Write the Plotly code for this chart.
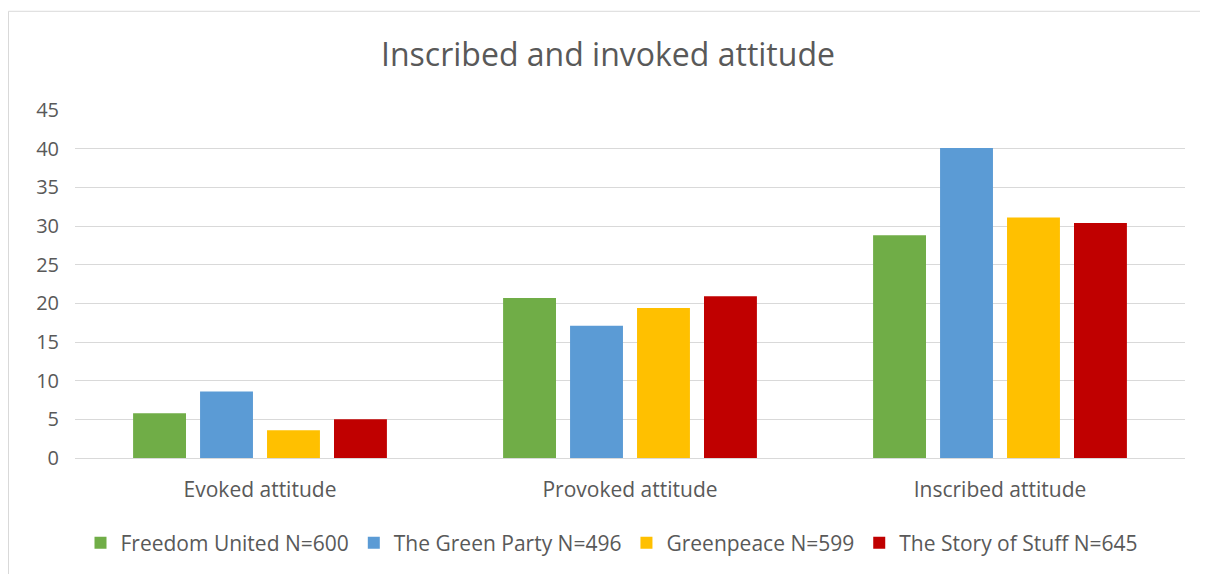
import plotly.graph_objects as go

categories = ["Evoked attitude", "Provoked attitude", "Inscribed attitude"]
series_names = ["Freedom United N=600", "The Green Party N=496", "Greenpeace N=599", "The Story of Stuff N=645"]
freedom_united = [5.8, 20.7, 28.8]
green_party = [8.6, 17.1, 40.1]
greenpeace = [3.6, 19.4, 31.1]
story_of_stuff = [5.0, 20.9, 30.4]
colors = ["#70AD47", "#5B9BD5", "#FFC000", "#C00000"]
y_ticks = [0, 5, 10, 15, 20, 25, 30, 35, 40, 45]

FONT = "'Open Sans', sans-serif"

fig = go.Figure()
for name, vals, c in zip(series_names, [freedom_united, green_party, greenpeace, story_of_stuff], colors):
    fig.add_trace(go.Bar(x=categories, y=vals, name=name, marker=dict(color=c, line=dict(width=0))))

OFF = 8  # page offset
W, H = 1208 - OFF, 574 - OFF
L, R, T, B = 75 - OFF, 1208 - 1185, 110 - OFF, 574 - 459
pw, ph = W - L - R, H - T - B

def px(x):
    return (x - OFF - L) / pw

def py(y):
    return 1 - (y - OFF - T) / ph

fig.update_layout(
    width=W, height=H,
    margin=dict(l=L, r=R, t=T, b=B),
    paper_bgcolor="white", plot_bgcolor="white",
    barmode="group", bargap=0.276, bargroupgap=0.21,
    font=dict(family=FONT, color="#595959", size=20),
    title=dict(text="Inscribed and invoked attitude", x=0.5, xanchor="center",
               y=1 - (55 - OFF) / H, yanchor="middle",
               font=dict(size=32, color="#595959", family=FONT)),
    xaxis=dict(showgrid=False, showline=True, linecolor="#d9d9d9", linewidth=1,
               ticks="", tickfont=dict(size=21, color="#595959"), ticklabelstandoff=13),
    yaxis=dict(range=[0, 45], tickvals=y_ticks, showgrid=True, gridcolor="#d9d9d9",
               gridwidth=1, zeroline=False, showline=False, ticks="",
               tickfont=dict(size=20, color="#595959"), ticklabelstandoff=15),
    legend=dict(orientation="h", x=0.5 - 18 / pw, xanchor="center", y=py(543), yanchor="middle",
                font=dict(size=21, color="#595959"), itemwidth=30, traceorder="normal"),
    shapes=[dict(type="rect", xref="paper", yref="paper",
                 x0=px(8.5), x1=px(1207), y0=py(600), y1=py(11),
                 line=dict(color="#d9d9d9", width=1), fillcolor="rgba(0,0,0,0)", layer="below")],
)

fig.write_html("out.html")
